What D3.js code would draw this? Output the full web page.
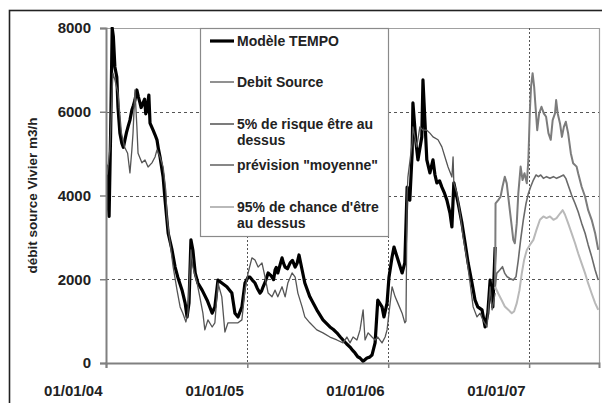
<!DOCTYPE html>
<html>
<head>
<meta charset="utf-8">
<script src="https://cdn.jsdelivr.net/npm/d3@7"></script>
<style>
  body { margin: 0; background: #fff; }
  svg { display: block; font-family: "Liberation Sans", Arial, sans-serif; }
</style>
</head>
<body>
<svg id="chart" width="602" height="403"></svg>
<script>
// Débit de la source du Vivier (m3/h) : modèle, mesures et prévisions
const modeleTempo = [
  ["2004-01-01",4300],["2004-01-04",4700],["2004-01-06",3900],["2004-01-09",3500],["2004-01-13",5500],
  ["2004-01-17",8000],["2004-01-20",7800],["2004-01-24",7070],["2004-01-29",6830],["2004-02-01",6110],
  ["2004-02-06",5490],["2004-02-11",5250],["2004-02-15",5150],["2004-02-19",5330],["2004-02-23",5500],
  ["2004-02-27",5640],["2004-03-03",5800],["2004-03-08",6040],["2004-03-12",6150],["2004-03-16",6280],
  ["2004-03-21",6520],["2004-03-25",6350],["2004-03-29",6210],["2004-04-01",6100],["2004-04-06",6210],
  ["2004-04-10",6300],["2004-04-13",5950],["2004-04-16",6040],["2004-04-21",6400],["2004-04-24",5730],
  ["2004-05-02",5560],["2004-05-07",5450],["2004-05-12",5330],["2004-05-16",5100],["2004-05-20",4920],
  ["2004-05-28",4440],["2004-06-02",3890],["2004-06-10",3100],["2004-06-20",2700],["2004-06-28",2290],
  ["2004-07-05",2050],["2004-07-16",1740],["2004-07-24",1430],["2004-07-29",1100],["2004-08-03",1430],
  ["2004-08-08",2940],["2004-08-13",2700],["2004-08-19",2150],["2004-08-26",1910],["2004-09-06",1740],
  ["2004-09-19",1500],["2004-10-02",1190],["2004-10-09",1340],["2004-10-17",1980],["2004-10-27",1910],
  ["2004-11-09",1820],["2004-11-22",1670],["2004-11-30",1190],["2004-12-08",1100],["2004-12-18",1340],
  ["2004-12-26",1910],["2005-01-03",2050],["2005-01-08",2050],["2005-01-14",1980],["2005-01-21",1910],
  ["2005-01-27",1780],["2005-02-03",1670],["2005-02-07",1720],["2005-02-11",1820],["2005-02-17",1950],
  ["2005-02-24",2150],["2005-03-02",2100],["2005-03-06",2050],["2005-03-10",1990],["2005-03-14",2220],
  ["2005-03-17",2280],["2005-03-21",2150],["2005-03-27",2350],["2005-04-01",2510],["2005-04-05",2380],
  ["2005-04-09",2290],["2005-04-15",2250],["2005-04-22",2390],["2005-04-28",2450],["2005-05-05",2290],
  ["2005-05-10",2380],["2005-05-15",2580],["2005-05-23",2220],["2005-05-30",1910],["2005-06-12",1580],
  ["2005-06-30",1270],["2005-07-16",1030],["2005-08-03",860],["2005-08-12",800],["2005-08-21",720],
  ["2005-08-30",620],["2005-09-06",550],["2005-09-15",460],["2005-09-24",380],["2005-10-01",300],
  ["2005-10-07",240],["2005-10-14",150],["2005-10-20",120],["2005-10-28",40],["2005-11-07",120],
  ["2005-11-14",140],["2005-11-20",190],["2005-11-28",480],["2005-12-05",1500],["2005-12-16",1340],
  ["2005-12-21",1100],["2005-12-29",1430],["2006-01-03",2050],["2006-01-11",2530],["2006-01-16",2770],
  ["2006-01-24",2530],["2006-02-06",2150],["2006-02-13",2390],["2006-02-19",4200],["2006-02-26",3890],
  ["2006-03-04",5010],["2006-03-06",6210],["2006-03-14",5250],["2006-03-19",4850],["2006-03-29",5400],
  ["2006-04-01",6760],["2006-04-06",5800],["2006-04-11",4850],["2006-04-19",4540],["2006-04-27",4850],
  ["2006-05-02",4500],["2006-05-07",4300],["2006-05-14",4350],["2006-05-20",4200],["2006-05-27",4050],
  ["2006-06-02",3890],["2006-06-10",3580],["2006-06-15",3250],["2006-06-20",4300],["2006-07-01",3820],
  ["2006-07-11",3340],["2006-07-19",2870],["2006-07-27",2390],["2006-08-06",1910],["2006-08-14",1500],
  ["2006-08-21",1340],["2006-09-01",1270],["2006-09-09",860],["2006-09-16",1190],["2006-09-22",1980],
  ["2006-09-27",1500],["2006-09-29",1340],["2006-10-05",2770]
];

const debitSource = [
  ["2004-01-04",4500],["2004-01-11",5100],["2004-01-17",6500],["2004-01-19",6920],["2004-01-24",6760],
  ["2004-02-01",6450],["2004-02-10",5490],["2004-02-18",5160],["2004-02-26",5010],["2004-03-03",4540],
  ["2004-03-08",5090],["2004-03-11",5490],["2004-03-16",6520],["2004-03-21",5640],["2004-03-24",5010],
  ["2004-04-03",4780],["2004-04-11",4850],["2004-04-19",4680],["2004-04-29",4780],["2004-05-07",4920],
  ["2004-05-12",5090],["2004-05-20",4920],["2004-05-28",4680],["2004-06-04",4100],["2004-06-07",3490],
  ["2004-06-15",2870],["2004-06-23",2290],["2004-07-03",1740],["2004-07-11",1340],["2004-07-18",1190],
  ["2004-07-26",980],["2004-07-31",1190],["2004-08-08",2700],["2004-08-13",2290],["2004-08-24",1910],
  ["2004-08-31",1580],["2004-09-08",1190],["2004-09-13",790],["2004-09-21",1030],["2004-10-02",860],
  ["2004-10-09",960],["2004-10-17",1910],["2004-10-27",1580],["2004-11-04",740],["2004-11-12",960],
  ["2004-11-25",960],["2004-12-08",960],["2004-12-18",1030],["2004-12-26",1740],["2005-01-03",2150],
  ["2005-01-13",2510],["2005-01-21",2460],["2005-01-29",2290],["2005-02-08",2390],["2005-02-16",2050],
  ["2005-02-24",1670],["2005-03-06",1580],["2005-03-14",1740],["2005-03-21",1580],["2005-04-01",1820],
  ["2005-04-09",1580],["2005-04-16",1910],["2005-04-27",2150],["2005-05-05",2050],["2005-05-12",1670],
  ["2005-05-23",1340],["2005-05-30",1100],["2005-06-12",960],["2005-06-30",790],["2005-07-16",720],
  ["2005-08-03",620],["2005-08-21",550],["2005-09-06",480],["2005-09-16",620],["2005-09-24",480],
  ["2005-10-02",620],["2005-10-12",550],["2005-10-20",790],["2005-10-28",1270],["2005-11-02",550],
  ["2005-11-10",720],["2005-11-20",620],["2005-11-28",550],["2005-12-05",620],["2005-12-16",480],
  ["2005-12-24",620],["2005-12-29",790],["2006-01-03",1190],["2006-01-11",1820],["2006-01-19",1580],
  ["2006-01-26",1430],["2006-02-06",1190],["2006-02-13",960],["2006-02-16",1000],["2006-02-19",4000],
  ["2006-02-21",4440],["2006-03-04",5250],["2006-03-06",5640],["2006-03-16",5160],["2006-03-24",5640],
  ["2006-04-01",5560],["2006-04-11",5560],["2006-04-19",5490],["2006-04-27",5400],["2006-05-10",5330],
  ["2006-05-20",5160],["2006-05-28",4920],["2006-06-05",4680],["2006-06-15",4440],["2006-06-18",4920],
  ["2006-06-20",4300],["2006-06-28",4060],["2006-07-06",3580],["2006-07-14",3010],["2006-07-24",2460],
  ["2006-08-01",1910],["2006-08-09",1340],["2006-08-19",1100],["2006-08-27",1190],["2006-09-03",1030],
  ["2006-09-14",860],["2006-09-22",1820],["2006-09-27",1270],["2006-10-05",1670]
];

const risque5 = [
  ["2006-10-05",1750],["2006-10-06",3810],["2006-10-13",3890],["2006-10-19",3970],["2006-10-24",4210],
  ["2006-10-30",4450],["2006-11-04",4290],["2006-11-11",3730],["2006-11-17",3260],["2006-11-21",2940],
  ["2006-11-25",2860],["2006-11-30",3340],["2006-12-04",4050],["2006-12-10",4690],["2006-12-15",4370],
  ["2006-12-20",4530],["2006-12-26",4290],["2006-12-30",4850],["2007-01-03",6040],["2007-01-06",6600],
  ["2007-01-10",6920],["2007-01-14",6600],["2007-01-17",6200],["2007-01-22",5560],["2007-01-27",5960],
  ["2007-02-02",6120],["2007-02-08",5960],["2007-02-14",5880],["2007-02-20",5490],["2007-02-26",5330],
  ["2007-03-03",5800],["2007-03-09",5960],["2007-03-12",6280],["2007-03-16",5960],["2007-03-22",5720],
  ["2007-03-27",5400],["2007-04-01",5640],["2007-04-06",5760],["2007-04-12",5490],["2007-04-19",5010],
  ["2007-04-25",4770],["2007-05-04",4690],["2007-05-08",4530],["2007-05-17",4210],["2007-05-26",3970],
  ["2007-06-03",3650],["2007-06-12",3420],["2007-06-21",3100],["2007-06-29",2700]
];

const previsionMoyenne = [
  ["2006-10-05",1820],["2006-10-09",2140],["2006-10-17",2220],["2006-10-24",2300],["2006-10-30",2140],
  ["2006-11-05",2060],["2006-11-12",2020],["2006-11-21",1980],["2006-11-28",2060],["2006-12-04",2460],
  ["2006-12-10",2940],["2006-12-17",3420],["2006-12-24",3810],["2006-12-30",4050],["2007-01-05",4210],
  ["2007-01-12",4370],["2007-01-19",4490],["2007-01-25",4450],["2007-01-31",4490],["2007-02-07",4410],
  ["2007-02-15",4450],["2007-02-24",4410],["2007-03-05",4450],["2007-03-13",4410],["2007-03-22",4450],
  ["2007-03-31",4490],["2007-04-06",4410],["2007-04-12",4250],["2007-04-21",4010],["2007-04-30",3810],
  ["2007-05-08",3610],["2007-05-17",3340],["2007-05-26",3100],["2007-06-03",2820],["2007-06-12",2540],
  ["2007-06-21",2220],["2007-06-29",1980]
];

const chance95 = [
  ["2006-10-05",1820],["2006-10-13",1660],["2006-10-22",1500],["2006-10-30",1350],["2006-11-08",1270],
  ["2006-11-17",1190],["2006-11-23",1230],["2006-11-30",1430],["2006-12-07",1740],["2006-12-13",2140],
  ["2006-12-19",2460],["2006-12-26",2700],["2007-01-03",2820],["2007-01-12",2940],["2007-01-20",3180],
  ["2007-01-29",3420],["2007-02-07",3500],["2007-02-15",3460],["2007-02-24",3500],["2007-03-05",3420],
  ["2007-03-13",3460],["2007-03-22",3570],["2007-03-29",3650],["2007-04-04",3540],["2007-04-12",3340],
  ["2007-04-21",3100],["2007-04-30",2860],["2007-05-08",2620],["2007-05-17",2380],["2007-05-26",2140],
  ["2007-06-03",1900],["2007-06-12",1660],["2007-06-21",1430],["2007-06-29",1270]
];

const yTicks = [0, 2000, 4000, 6000, 8000];
const xTickDates = ["2004-01-01", "2005-01-01", "2006-01-01", "2007-01-01"];
const xTickLabels = ["01/01/04", "01/01/05", "01/01/06", "01/01/07"];
const xDomain = ["2004-01-01", "2007-07-01"];
const yTitle = "débit source Vivier m3/h";

const legendItems = [
  { lines: ["Modèle TEMPO"], key: "tempo" },
  { lines: ["Debit Source"], key: "source" },
  { lines: ["5% de risque être au", "dessus"], key: "r5" },
  { lines: ["prévision \"moyenne\""], key: "moy" },
  { lines: ["95% de chance d'être", "au dessus"], key: "c95" }
];

const styles = {
  tempo:  { color: "#000000", width: 3.2 },
  source: { color: "#555555", width: 1.3 },
  r5:     { color: "#7c7c7c", width: 2 },
  moy:    { color: "#6a6a6a", width: 1.6 },
  c95:    { color: "#b9b9b9", width: 2 }
};

const parse = d3.utcParse("%Y-%m-%d");
const svg = d3.select("#chart");

const plot = { left: 106, right: 599, top: 28, bottom: 363 };

const x = d3.scaleUtc().domain(xDomain.map(parse)).range([plot.left, plot.right]);
const y = d3.scaleLinear().domain([0, 8000]).range([plot.bottom, plot.top]);

// outer frame
svg.append("rect").attr("x", 9.5).attr("y", 10.5).attr("width", 700).attr("height", 500)
  .attr("fill", "#fff").attr("stroke", "#222").attr("stroke-width", 1.6);

// plot border (top and right)
svg.append("path")
  .attr("d", `M${plot.left},${plot.top + 0.5}H${plot.right + 0.5}V${plot.bottom}`)
  .attr("fill", "none").attr("stroke", "#a0a0a0").attr("stroke-width", 1.2);

// horizontal grid
svg.append("g").selectAll("line").data(yTicks.filter(v => v > 0 && v < 8000)).join("line")
  .attr("x1", plot.left).attr("x2", plot.right)
  .attr("y1", d => Math.round(y(d)) + 0.5).attr("y2", d => Math.round(y(d)) + 0.5)
  .attr("stroke", "#555").attr("stroke-width", 1).attr("stroke-dasharray", "3,3");

// vertical grid
svg.append("g").selectAll("line").data(xTickDates.slice(1).map(parse)).join("line")
  .attr("x1", d => Math.round(x(d)) + 0.5).attr("x2", d => Math.round(x(d)) + 0.5)
  .attr("y1", plot.top).attr("y2", plot.bottom)
  .attr("stroke", "#555").attr("stroke-width", 1).attr("stroke-dasharray", "2,2");

// clip for series
svg.append("clipPath").attr("id", "plotClip").append("rect")
  .attr("x", plot.left).attr("y", plot.top - 1)
  .attr("width", plot.right - plot.left).attr("height", plot.bottom - plot.top + 1);

const line = d3.line().x(d => x(parse(d[0]))).y(d => y(d[1]));

const seriesList = [
  { data: modeleTempo, key: "tempo" },
  { data: debitSource, key: "source" },
  { data: risque5, key: "r5" },
  { data: previsionMoyenne, key: "moy" },
  { data: chance95, key: "c95" }
];

const gSeries = svg.append("g").attr("clip-path", "url(#plotClip)");
gSeries.selectAll("path").data(seriesList).join("path")
  .attr("d", s => line(s.data))
  .attr("fill", "none")
  .attr("stroke", s => styles[s.key].color)
  .attr("stroke-width", s => styles[s.key].width)
  .attr("stroke-linejoin", "round");

// Y axis
const yAxis = d3.axisLeft(y).tickValues(yTicks).tickSize(6).tickPadding(9).tickFormat(d3.format("d"));
const gy = svg.append("g").attr("transform", `translate(${plot.left},0)`).call(yAxis);
gy.select(".domain").attr("stroke", "#808080").attr("stroke-width", 2);
gy.selectAll(".tick line").attr("stroke", "#808080").attr("stroke-width", 1.5);
gy.selectAll(".tick text")
  .attr("font-size", 15).attr("font-weight", "bold").attr("fill", "#222")
  .attr("font-family", "'Liberation Sans', Arial, sans-serif");

// X axis
const xAxis = d3.axisBottom(x).tickValues(xTickDates.map(parse)).tickSize(5)
  .tickFormat((d, i) => xTickLabels[i]);
const gx = svg.append("g").attr("transform", `translate(0,${plot.bottom})`).call(xAxis);
gx.select(".domain").attr("stroke", "#808080").attr("stroke-width", 2);
gx.selectAll(".tick line").attr("stroke", "#808080").attr("stroke-width", 1.5);
gx.selectAll(".tick text")
  .attr("font-size", 15).attr("font-weight", "bold").attr("fill", "#222")
  .attr("font-family", "'Liberation Sans', Arial, sans-serif")
  .attr("text-anchor", "end").attr("x", -4).attr("y", 22).attr("dy", "0.71em");

// Y title
svg.append("text")
  .attr("transform", `translate(37,${(plot.top + plot.bottom) / 2}) rotate(-90)`)
  .attr("text-anchor", "middle")
  .attr("font-size", 13.5).attr("font-weight", "bold").attr("fill", "#222")
  .text(yTitle);

// Legend
const legend = svg.append("g");
legend.append("rect").attr("x", 200.5).attr("y", 28.5).attr("width", 188).attr("height", 208)
  .attr("fill", "#fff").attr("stroke", "#8a8a8a").attr("stroke-width", 1.2);

const rowY = [41, 82, 124, 165, 207];
legendItems.forEach((item, i) => {
  const st = styles[item.key];
  legend.append("line")
    .attr("x1", 210).attr("x2", 234).attr("y1", rowY[i]).attr("y2", rowY[i])
    .attr("stroke", st.color).attr("stroke-width", st.width);
  const t = legend.append("text")
    .attr("x", 237).attr("y", rowY[i] + 5)
    .attr("font-size", 14).attr("font-weight", "bold").attr("fill", "#222");
  item.lines.forEach((ln, j) => {
    t.append("tspan").attr("x", 237).attr("dy", j === 0 ? 0 : 16).text(ln);
  });
});
</script>
</body>
</html>
